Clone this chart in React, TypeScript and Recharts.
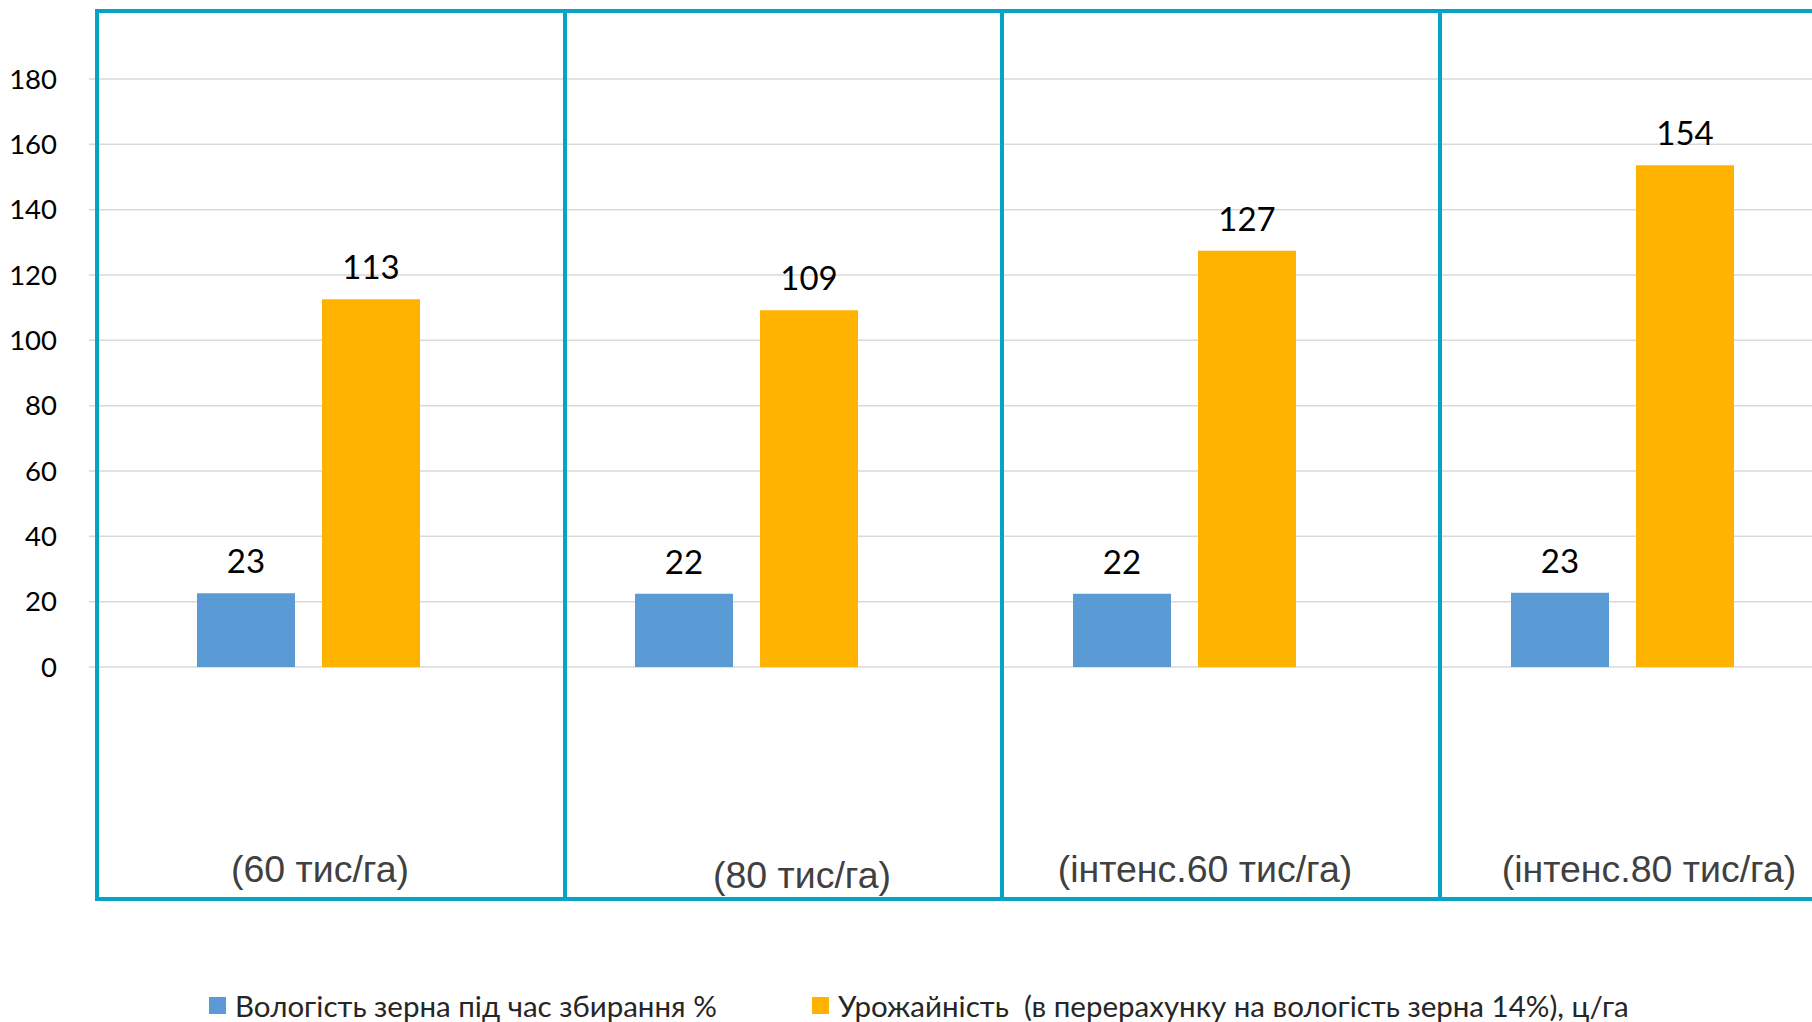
import { BarChart, Bar, XAxis, YAxis, CartesianGrid, Legend, LabelList } from "recharts";

const categories = ["(60 тис/га)", "(80 тис/га)", "(інтенс.60 тис/га)", "(інтенс.80 тис/га)"];
const moisture = [22.6, 22.4, 22.4, 22.7];
const yieldValues = [112.6, 109.2, 127.4, 153.6];
const yTicks = [0, 20, 40, 60, 80, 100, 120, 140, 160, 180];
const seriesNames = [
  "Вологість зерна під час збирання %",
  "Урожайність  (в перерахунку на вологість зерна 14%), ц/га",
];

const data = categories.map((name, i) => ({
  name,
  moisture: moisture[i],
  yield: yieldValues[i],
}));

const FRAME = "#05A4C4";
const FONT = "Lato, 'Noto Sans', sans-serif";

// category labels are text boxes in the original, a bit off the band centres
const LABEL_NUDGE = [
  { dx: 12, dy: 0 },
  { dx: 56, dy: 6 },
  { dx: 21, dy: 0 },
  { dx: 27, dy: 0 },
];

function CategoryTick(props: any) {
  const { x, y, payload } = props;
  const i = props.index ?? payload.index ?? 0;
  const n = LABEL_NUDGE[i] ?? { dx: 0, dy: 0 };
  return (
    <text
      x={x + n.dx}
      y={y + n.dy + 207}
      textAnchor="middle"
      fill="#404040"
      fontSize={37.5}
      fontFamily="'Liberation Sans', Arial, sans-serif"
    >
      {payload.value}
    </text>
  );
}

function LegendContent({ payload }: any) {
  return (
    <div style={{ display: "flex", alignItems: "center", fontFamily: FONT, fontSize: 29.5, color: "#262626" }}>
      {(payload || []).map((entry: any, i: number) => (
        <div key={i} style={{ display: "flex", alignItems: "center", width: i === 0 ? 603 : "auto", whiteSpace: "pre" }}>
          <span style={{ display: "inline-block", width: 17, height: 17, background: entry.color, marginRight: 9 }} />
          <span>{entry.value}</span>
        </div>
      ))}
    </div>
  );
}

const frameLine = (style: React.CSSProperties) => (
  <div style={{ position: "absolute", background: FRAME, ...style }} />
);

export default function App() {
  return (
    <div
      style={{
        position: "fixed",
        left: 0,
        top: 0,
        width: 1812,
        height: 1022,
        overflow: "hidden",
        background: "#fff",
        fontFamily: FONT,
      }}
    >
      <BarChart
        width={1860}
        height={1022}
        data={data}
        margin={{ top: 79, right: 19, left: 0, bottom: 325 }}
        barGap={27}
        barSize={98}
      >
        <CartesianGrid vertical={false} stroke="#D9D9D9" strokeWidth={1.5} />
        <XAxis
          dataKey="name"
          axisLine={false}
          tickLine={false}
          interval={0}
          height={30}
          tick={<CategoryTick />}
        />
        <YAxis
          domain={[0, 180]}
          ticks={yTicks}
          width={89}
          axisLine={false}
          tickLine={false}
          tickMargin={26}
          tick={{ fill: "#000", fontSize: 27.5, fontFamily: FONT }}
        />
        <Legend
          verticalAlign="middle"
          layout="horizontal"
          wrapperStyle={{ position: "absolute", top: 988, left: 209, width: 1560 }}
          content={<LegendContent />}
        />
        <Bar dataKey="moisture" name={seriesNames[0]} fill="#5B9BD5" isAnimationActive={false}>
          <LabelList
            dataKey="moisture"
            position="top"
            offset={20}
            formatter={(v: any) => Math.round(Number(v))}
            style={{ fill: "#000", fontSize: 33, fontFamily: FONT }}
          />
        </Bar>
        <Bar dataKey="yield" name={seriesNames[1]} fill="#FFB300" isAnimationActive={false}>
          <LabelList
            dataKey="yield"
            position="top"
            offset={20}
            formatter={(v: any) => Math.round(Number(v))}
            style={{ fill: "#000", fontSize: 33, fontFamily: FONT }}
          />
        </Bar>
      </BarChart>
      {/* table frame drawn over the plot */}
      {frameLine({ left: 95, top: 9, width: 1812 - 95, height: 4 })}
      {frameLine({ left: 95, top: 897, width: 1812 - 95, height: 4 })}
      {frameLine({ left: 95, top: 9, width: 4, height: 892 })}
      {frameLine({ left: 563, top: 9, width: 4, height: 892 })}
      {frameLine({ left: 1000, top: 9, width: 4, height: 892 })}
      {frameLine({ left: 1438, top: 9, width: 4, height: 892 })}
    </div>
  );
}
